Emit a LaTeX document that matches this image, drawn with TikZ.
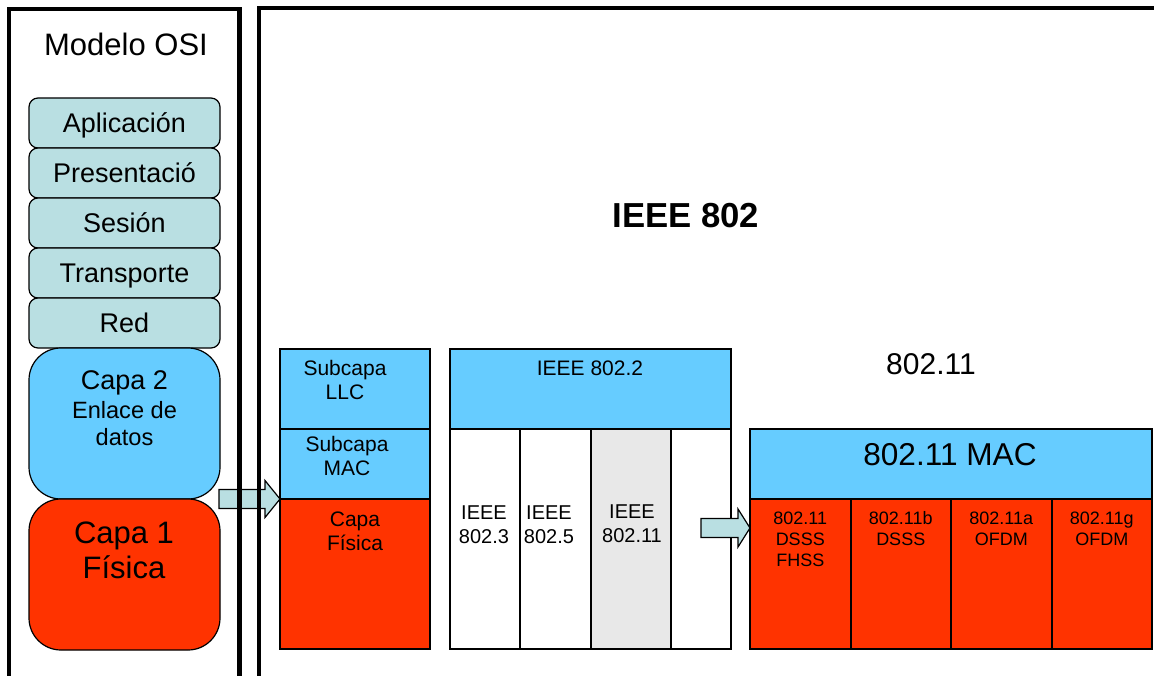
\documentclass[tikz,border=0pt]{standalone}
\usepackage{fontspec}
\setmainfont{Liberation Sans}
\usetikzlibrary{calc}

\definecolor{osiTeal}{RGB}{185,223,226}
\definecolor{capaAzul}{RGB}{102,204,255}
\definecolor{capaRoja}{RGB}{255,51,0}
\definecolor{colGris}{RGB}{232,232,232}

\newcommand{\tam}[2]{\fontsize{#1}{#2}\selectfont}

\tikzset{
    caja/.style = {draw, line width = 1.2, anchor = north west, inner sep = 0, outer sep = 0},
    capa/.style = {caja, rounded corners = 9, fill = osiTeal, minimum width = 191, minimum height = 50, font = \tam{27}{31}, text height = 19.5, text depth = 0},
    bloque/.style = {caja, line width = 2},
    texto/.style = {align = center, inner sep = 0, anchor = north},
    marco/.style = {line width = 4.5},
    flecha/.style = {draw, line width = 1.2, fill = osiTeal}
}

\begin{document}
\begin{tikzpicture}[x = 1pt, y = -1pt]
    \useasboundingbox (0, 0) rectangle (1154, 676);

    \node[font = \tam{31}{36}] (osi) at (126, 44) {Modelo OSI};
    \foreach \nombre [count = \i] in {Aplicación, Presentació, Sesión, Transporte, Red}
        \node[capa] (osi\i) at (29, 48 + 50*\i) {\nombre};
    \node[capa, rounded corners = 32, fill = capaAzul, minimum height = 151] (capa2) at (29, 348) {};
    \node[capa, rounded corners = 32, fill = capaRoja, minimum height = 151] (capa1) at (29, 499) {};
    \node[texto, font = \tam{27}{31}] (t2) at (124.5, 370.5) {Capa 2};
    \node[texto, font = \tam{23.6}{27}] (t2b) at (124.5, 401.5) {Enlace de\\datos};
    \node[texto, font = \tam{31}{35}] (t1) at (124, 522) {Capa 1\\Física};

    \node[font = \bfseries\tam{34.7}{40}] (ieee) at (686, 216) {IEEE 802};

    \node[bloque, fill = capaAzul, minimum width = 150, minimum height = 80] (llc) at (280, 349) {};
    \node[bloque, fill = capaAzul, minimum width = 150, minimum height = 70] (mac) at (280, 429) {};
    \node[bloque, fill = capaRoja, minimum width = 150, minimum height = 150] (fis) at (280, 499) {};
    \node[texto, font = \tam{21}{24}] (tllc) at (345, 360.5) {Subcapa\\LLC};
    \node[texto, font = \tam{21}{24}] (tmac) at (347, 436.5) {Subcapa\\MAC};
    \node[texto, font = \tam{21}{24}] (tfis) at (355, 511.5) {Capa\\Física};

    \node[bloque, fill = capaAzul, minimum width = 281, minimum height = 80] (ieee2) at (450, 349) {};
    \node[texto, font = \tam{21}{24}] (tieee2) at (590, 360.5) {IEEE 802.2};
    \foreach \x/\w/\c [count = \i] in {450/70/white, 520/71/white, 591/80/colGris, 671/60/white}
        \node[bloque, fill = \c, minimum width = \w, minimum height = 220] (col\i) at (\x, 429) {};
    \node[texto, font = \tam{20}{24}] (t3) at (484, 506) {IEEE\\802.3};
    \node[texto, font = \tam{20}{24}] (t5) at (549, 506) {IEEE\\802.5};
    \node[texto, font = \tam{20}{24}] (t11) at (632, 505) {IEEE\\802.11};

    \node[font = \tam{30}{35}] (w80211) at (931, 364) {802.11};
    \node[bloque, fill = capaAzul, minimum width = 402, minimum height = 70] (mac11) at (750, 429) {};
    \node[font = \tam{31.6}{36}] (tmac11) at (950, 455) {802.11 MAC};
    \foreach \t [count = \i] in {{802.11\\DSSS\\FHSS}, {802.11b\\DSSS}, {802.11a\\OFDM}, {802.11g\\OFDM}} {
        \node[bloque, fill = capaRoja, minimum width = 100.5, minimum height = 150] (phy\i) at (649.5 + 100.5*\i, 499) {};
        \node[texto, font = \tam{18}{21}] (tphy\i) at ($(phy\i.north) + (0, 12.5)$) {\t};
    }

    \draw[flecha] (mac.south west) -- ++(-15, -18.5) -- ++(0, 9) -- ++(-46, 0) -- ++(0, 19) -- ++(46, 0) -- ++(0, 9) -- cycle;
    \draw[flecha] ($(mac11.south west) + (0, 29)$) -- ++(-12, -19) -- ++(0, 9.5) -- ++(-37, 0) -- ++(0, 19) -- ++(37, 0) -- ++(0, 9.5) -- cycle;

    \draw[marco] (9, 680) -- (9, 9) -- (239.5, 9) -- (239.5, 680);
    \draw[marco] (259, 680) -- (259, 8) -- (1160, 8);
\end{tikzpicture}
\end{document}
